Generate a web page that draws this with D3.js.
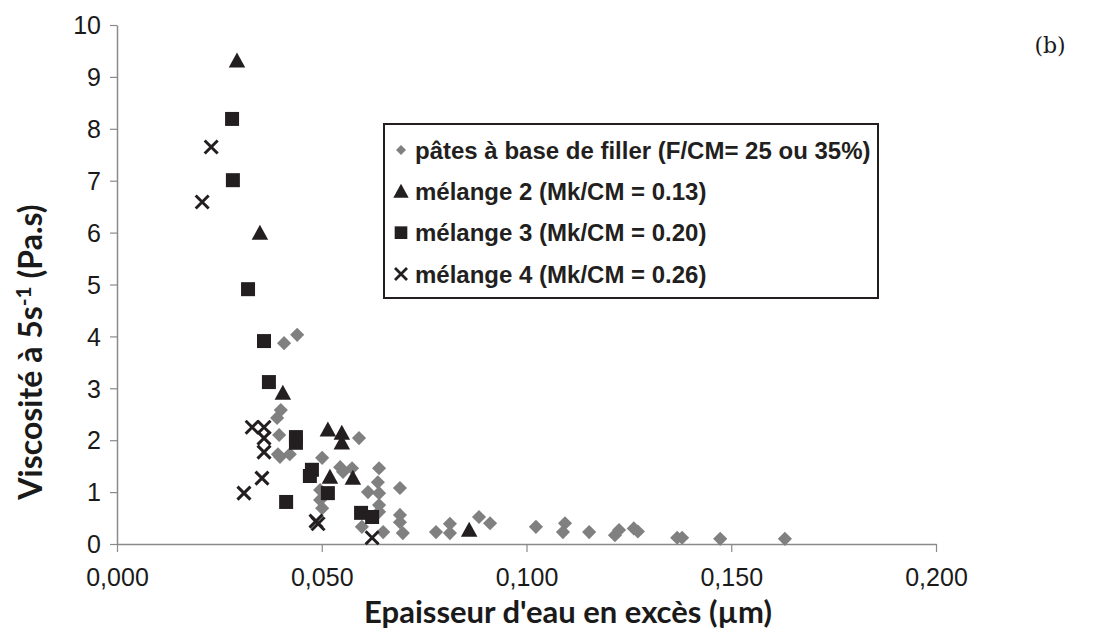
<!DOCTYPE html>
<html><head><meta charset="utf-8">
<script src="https://cdn.jsdelivr.net/npm/d3@7"></script>
<style>body{margin:0;background:#fff}svg{display:block}</style>
</head><body><svg id="c" width="1097" height="636"></svg>
<script>
// ---- data (x: épaisseur d'eau en excès µm, y: viscosité Pa.s) ----
const filler = [
  [0.0408,3.87],[0.0440,4.03],[0.0400,2.58],[0.0391,2.43],[0.0396,2.10],[0.0393,1.73],
  [0.0422,1.73],[0.0398,1.68],[0.0501,1.66],[0.0545,1.48],[0.0552,1.39],[0.0574,1.46],
  [0.0591,2.04],[0.0640,1.46],[0.0637,1.19],[0.0613,1.00],[0.0640,0.98],[0.0640,0.75],
  [0.0640,0.62],[0.0691,1.08],[0.0691,0.56],[0.0691,0.42],[0.0698,0.21],[0.0650,0.23],
  [0.0598,0.33],[0.0496,1.04],[0.0496,0.85],[0.0501,0.69],[0.0779,0.23],[0.0813,0.39],
  [0.0813,0.21],[0.0884,0.52],[0.0911,0.40],[0.1023,0.33],[0.1094,0.40],[0.1089,0.23],
  [0.1153,0.23],[0.1216,0.17],[0.1226,0.27],[0.1262,0.30],[0.1272,0.24],[0.1368,0.12],
  [0.1380,0.12],[0.1473,0.10],[0.1631,0.10]
];
const melange2 = [
  [0.0293,9.31],[0.0349,5.99],[0.0405,2.91],[0.0515,2.20],[0.0549,2.14],[0.0549,1.95],
  [0.0520,1.29],[0.0576,1.27],[0.0860,0.27]
];
const melange3 = [
  [0.0281,8.19],[0.0283,7.01],[0.0320,4.91],[0.0359,3.91],[0.0371,3.12],[0.0437,2.06],
  [0.0437,1.95],[0.0476,1.43],[0.0471,1.31],[0.0413,0.81],[0.0515,0.98],[0.0596,0.60],
  [0.0623,0.52]
];
const melange4 = [
  [0.0230,7.65],[0.0208,6.59],[0.0330,2.25],[0.0359,2.25],[0.0359,2.04],[0.0359,1.77],
  [0.0354,1.27],[0.0310,0.98],[0.0486,0.44],[0.0491,0.39],[0.0623,0.12]
];
const xTicks = [0, 0.05, 0.10, 0.15, 0.20];
const yTicks = [0,1,2,3,4,5,6,7,8,9,10];
const legendLabels = [
  "pâtes à base de filler (F/CM= 25 ou 35%)",
  "mélange 2 (Mk/CM = 0.13)",
  "mélange 3 (Mk/CM = 0.20)",
  "mélange 4 (Mk/CM = 0.26)"
];

// ---- drawing ----
const svg = d3.select("#c");
const x = d3.scaleLinear().domain([0,0.2]).range([117,936]);
const y = d3.scaleLinear().domain([0,10]).range([544,25]);
const axisCol = "#8a8a8a", dark = "#231f20", gray = "#808080";
const tickFont = "'Liberation Sans', Arial, sans-serif";

const fmt = d => d3.format(".3f")(d).replace(".", ",");
const gx = svg.append("g").attr("transform","translate(0,544)")
  .call(d3.axisBottom(x).tickValues(xTicks).tickFormat(fmt).tickSizeInner(8).tickSizeOuter(0).tickPadding(16));
const gy = svg.append("g").attr("transform","translate(117,0)")
  .call(d3.axisLeft(y).tickValues(yTicks).tickSizeInner(7).tickSizeOuter(0).tickPadding(9));
[gx,gy].forEach(g=>{
  g.select(".domain").attr("stroke",axisCol).attr("stroke-width",1.5);
  g.selectAll(".tick line").attr("stroke",axisCol).attr("stroke-width",1.2);
  g.selectAll(".tick text").attr("fill","#1a1a1a").style("font-family",tickFont).style("font-size","25px");
});
gy.selectAll(".tick text").attr("dy","0.35em");

// symbols
const diamondPath = d3.symbol().type(d3.symbolSquare).size(100)();
const squarePath = d3.symbol().type(d3.symbolSquare).size(196)();
const triPath = s => `M0,${-s*0.55}L${s*0.55},${s*0.45}L${-s*0.55},${s*0.45}Z`;
const crossPath = s => `M${-s},${-s}L${s},${s}M${-s},${s}L${s},${-s}`;

const plot = svg.append("g");
plot.selectAll(".dia").data(filler).join("path").attr("class","dia")
  .attr("d",diamondPath).attr("fill",gray)
  .attr("transform",d=>`translate(${x(d[0])},${y(d[1])}) rotate(45)`);
plot.selectAll(".tri").data(melange2).join("path").attr("class","tri")
  .attr("d",triPath(15)).attr("fill",dark)
  .attr("transform",d=>`translate(${x(d[0])},${y(d[1])})`);
plot.selectAll(".sq").data(melange3).join("path").attr("class","sq")
  .attr("d",squarePath).attr("fill",dark)
  .attr("transform",d=>`translate(${x(d[0])},${y(d[1])})`);
plot.selectAll(".cr").data(melange4).join("path").attr("class","cr")
  .attr("d",crossPath(6.5)).attr("fill","none").attr("stroke",dark).attr("stroke-width",3)
  .attr("transform",d=>`translate(${x(d[0])},${y(d[1])})`);

// legend
const lg = svg.append("g");
lg.append("rect").attr("x",384).attr("y",124).attr("width",494).attr("height",174)
  .attr("fill","#fff").attr("stroke",dark).attr("stroke-width",2);
const rowY = d3.scalePoint().domain(d3.range(4)).range([150,274]);
const legSym = [
  g=>g.append("path").attr("d",d3.symbol().type(d3.symbolSquare).size(50)()).attr("fill",gray).attr("transform","rotate(45)"),
  g=>g.append("path").attr("d",triPath(14)).attr("fill",dark),
  g=>g.append("path").attr("d",d3.symbol().type(d3.symbolSquare).size(160)()).attr("fill",dark),
  g=>g.append("path").attr("d",crossPath(6)).attr("fill","none").attr("stroke",dark).attr("stroke-width",2.8)
];
legendLabels.forEach((t,i)=>{
  const g = lg.append("g").attr("transform",`translate(401,${rowY(i)})`);
  legSym[i](g);
  lg.append("text").attr("x",415).attr("y",rowY(i)+8.5).text(t)
    .style("font-family",tickFont).style("font-weight","bold").style("font-size","24px").attr("fill",dark);
});

// titles
const titleFont = "Lato, 'Open Sans', sans-serif";
svg.append("text").attr("x",568).attr("y",623).attr("text-anchor","middle")
  .style("font-family",titleFont).style("font-weight","bold").style("font-size","31px").attr("fill","#1a1a1a")
  .text("Epaisseur d'eau en excès (µm)");
const yt = svg.append("text").attr("transform","translate(42,352) rotate(-90)").attr("text-anchor","middle")
  .style("font-family",titleFont).style("font-weight","bold").style("font-size","32px").attr("fill","#1a1a1a");
yt.append("tspan").text("Viscosité à 5s");
yt.append("tspan").attr("dy",-11).style("font-size","21px").text("-1");
yt.append("tspan").attr("dy",11).text(" (Pa.s)");

svg.append("text").attr("x",1050).attr("y",53).attr("text-anchor","middle")
  .style("font-family","'DejaVu Serif', 'Liberation Serif', serif").style("font-size","22px").attr("fill","#1a1a1a").text("(b)");
</script></body></html>
